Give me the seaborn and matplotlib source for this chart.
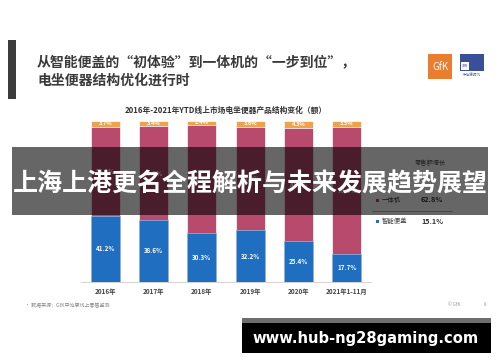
import matplotlib
matplotlib.use("Agg")
import matplotlib.pyplot as plt
import seaborn as sns
import pandas as pd
from matplotlib.patches import Rectangle

sns.set_theme(style="white")
plt.rcParams['font.family'] = ['Noto Sans CJK SC', 'DejaVu Sans']

# ---- data ----
years = ["2016年", "2017年", "2018年", "2019年", "2020年", "2021年1-11月"]
smart_cover = [41.2, 38.6, 30.3, 32.2, 25.4, 17.7]   # 智能便盖
integrated = [55.1, 58.0, 67.3, 64.2, 70.3, 78.8]    # 一体机
other = [3.7, 3.4, 2.4, 3.6, 4.3, 3.5]               # 其他
legend_names = ["一体机", "智能便盖"]
legend_growth = ["62.8%", "15.1%"]

title_lines = ["从智能便盖的“初体验”到一体机的“一步到位”，", "电坐便器结构优化进行时"]
chart_title = "2016年-2021年YTD线上市场电坐便器产品结构变化（额）"
banner_text = "上海上港更名全程解析与未来发展趋势展望"
watermark = "www.hub-ng28gaming.com"
source_note = "• 数据来源：GfK中怡康线上零售监测"

C_BLUE = "#1f6ec0"
C_PINK = "#b84a6e"
C_ORANGE = "#eea24e"

W, H = 500, 362
fig = plt.figure(figsize=(W / 100, H / 100), dpi=100)
fig.patch.set_facecolor("white")

# ---- bar chart ----
left_px, right_px, top_px, bot_px = 81, 371, 121, 282
ax = fig.add_axes([left_px / W, 1 - bot_px / H, (right_px - left_px) / W, (bot_px - top_px) / H])

df = pd.DataFrame({
    "year": years,
    "total": [s + i + o for s, i, o in zip(smart_cover, integrated, other)],
    "si": [s + i for s, i in zip(smart_cover, integrated)],
    "s": smart_cover,
})
sns.barplot(data=df, x="year", y="total", color=C_ORANGE, width=0.6, ax=ax,
            saturation=1, edgecolor="white", linewidth=0.5)
sns.barplot(data=df, x="year", y="si", color=C_PINK, width=0.6, ax=ax,
            saturation=1, edgecolor="white", linewidth=0.5)
sns.barplot(data=df, x="year", y="s", color=C_BLUE, width=0.6, ax=ax,
            saturation=1, edgecolor="#8fb7e6", linewidth=0.5)

for i in range(len(years)):
    s, m, o = smart_cover[i], integrated[i], other[i]
    ax.text(i, s / 2, f"{s}%", ha="center", va="center", color="white", fontsize=4.5, fontweight="bold")
    ax.text(i, s + m / 2, f"{m}%", ha="center", va="center", color="white", fontsize=4.5, fontweight="bold")
    ax.text(i, s + m + o / 2, f"{o}%", ha="center", va="center", color="white", fontsize=4.0, fontweight="bold")

ax.set_ylim(0, 100)
ax.set_xlim(-0.5, len(years) - 0.5)
ax.set_xlabel("")
ax.set_ylabel("")
ax.set_yticks([])
ax.tick_params(axis="x", length=0, pad=4, labelsize=4.6, labelcolor="#444444")
for lab in ax.get_xticklabels():
    lab.set_fontweight("bold")
for sp in ["top", "right", "left"]:
    ax.spines[sp].set_visible(False)
ax.spines["bottom"].set_color("#cccccc")
ax.spines["bottom"].set_linewidth(0.6)
ax.set_facecolor("none")

# ---- overlay in pixel coordinates ----
ov = fig.add_axes([0, 0, 1, 1])
ov.set_xlim(0, W)
ov.set_ylim(H, 0)
ov.axis("off")
ov.patch.set_alpha(0)

# left dark bar
ov.add_patch(Rectangle((8, 40), 8, 59, color="#3c3c3c", lw=0))
# titles
ov.text(37, 62, title_lines[0], fontsize=10, fontweight="bold", color="#3a3a3a", va="center", ha="left")
ov.text(37, 81, title_lines[1], fontsize=10, fontweight="bold", color="#3a3a3a", va="center", ha="left")
ov.text(226, 110, chart_title, fontsize=5.6, fontweight="bold", color="#333333", va="center", ha="center")

# logos
ov.add_patch(Rectangle((428, 54), 24, 25, color="#ea7d2e", lw=0))
ov.text(440, 66.5, "GfK", fontsize=7, color="white", ha="center", va="center")
ov.add_patch(Rectangle((460, 54), 24, 17, facecolor="#3a4f9a", lw=0))
ov.add_patch(Rectangle((461, 62), 8, 8, facecolor="white", lw=0))
ov.text(465, 66, "CMM", fontsize=2, color="#3a4f9a", ha="center", va="center")
ov.text(472, 75, "中怡康时代", fontsize=2.6, color="#3a4f9a", ha="center", va="center")

# legend panel
ov.text(430, 163, "零售额增长", fontsize=4.5, color="#555555", ha="center", va="center")
legend_colors = [C_PINK, C_BLUE]
legend_y = [200, 221]
for name, g, c, yy in zip(legend_names, legend_growth, legend_colors, legend_y):
    ov.add_patch(Rectangle((376, yy - 1.5), 3, 3, color=c, lw=0))
    ov.text(382, yy, name, fontsize=4.6, color="#444444", ha="left", va="center")
    ov.text(421, yy, g, fontsize=5.2, color="#333333", fontweight="bold", ha="left", va="center")
ov.plot([372, 452], [211, 211], color="#888888", lw=0.5)

# footer
ov.text(25, 305, source_note, fontsize=3.6, color="#888888", ha="left", va="center")
ov.text(454, 305, "© GfK", fontsize=3.2, color="#999999", ha="center", va="center")
ov.text(485, 305, "8", fontsize=3.2, color="#999999", ha="center", va="center")

# banner overlay
ov.add_patch(Rectangle((12, 147), 476, 68, facecolor="black", alpha=0.6, lw=0, zorder=5))
ov.text(250, 184, banner_text, fontsize=18.0, fontweight="bold", color="white",
        ha="center", va="center", zorder=6)

# watermark
ov.add_patch(Rectangle((242, 318), 249, 5, facecolor="#6e6e6e", lw=0, zorder=5))
ov.add_patch(Rectangle((242, 323), 249, 30, facecolor="black", lw=0, zorder=5))
ov.text(366, 338, watermark, fontsize=10.6, fontweight="bold", color="white",
        ha="center", va="center", family=["DejaVu Sans"], zorder=6)

fig.savefig("out.png", dpi=100)
